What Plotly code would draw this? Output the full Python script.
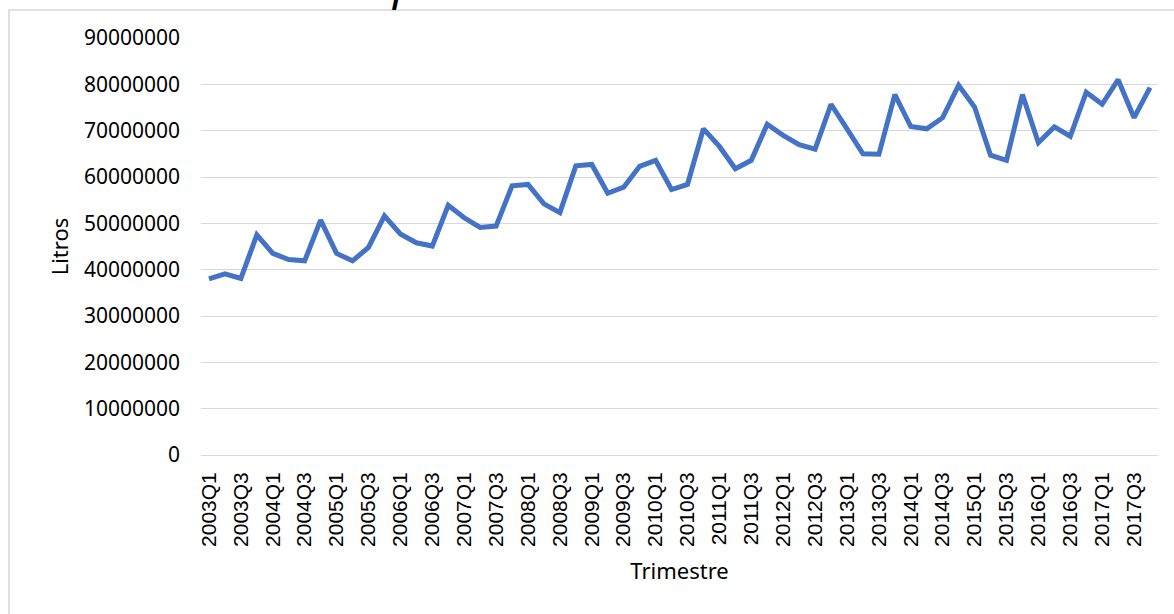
import plotly.graph_objects as go

years = list(range(2003, 2018))
quarters = ["Q1", "Q2", "Q3", "Q4"]
trimestres = [f"{y}{q}" for y in years for q in quarters]

# Litros por trimestre
litros = [
    38000000, 39100000, 38100000, 47500000,   # 2003
    43500000, 42200000, 41900000, 50700000,   # 2004
    43500000, 41900000, 44800000, 51600000,   # 2005
    47700000, 45800000, 45100000, 53900000,   # 2006
    51200000, 49100000, 49400000, 58100000,   # 2007
    58400000, 54200000, 52300000, 62400000,   # 2008
    62700000, 56500000, 57800000, 62300000,   # 2009
    63600000, 57300000, 58400000, 70400000,   # 2010
    66600000, 61800000, 63600000, 71400000,   # 2011
    69000000, 67000000, 66000000, 75700000,   # 2012
    70400000, 65000000, 64900000, 77800000,   # 2013
    70900000, 70400000, 72800000, 79800000,   # 2014
    75100000, 64700000, 63600000, 77800000,   # 2015
    67400000, 70800000, 68800000, 78300000,   # 2016
    75700000, 81000000, 72800000, 79300000,   # 2017
]
tick_labels = trimestres[::2]
y_ticks = list(range(0, 90000001, 10000000))

W, H = 1174, 614
L, R, T, B = 201, 16, 38, 159
pw, ph = W - L - R, H - T - B

def px(x):
    return (x - L) / pw

def py(y):
    return (H - B - y) / ph

fig = go.Figure()
fig.add_trace(go.Scatter(
    x=trimestres, y=litros, mode="lines",
    line=dict(color="#4472C4", width=5),
    showlegend=False,
))

fig.update_layout(
    width=W, height=H,
    margin=dict(l=L, r=R, t=T, b=B, autoexpand=False),
    paper_bgcolor="white", plot_bgcolor="white",
    font=dict(family="Noto Sans", color="#000000"),
    xaxis=dict(
        type="category", tickmode="array", tickvals=tick_labels, ticktext=tick_labels,
        tickangle=-90, range=[-0.5, len(trimestres) - 0.5],
        showgrid=False, showline=False, zeroline=False, ticks="",
        tickfont=dict(family="Liberation Sans", size=21, color="#000000"),
        ticklabelstandoff=12, automargin=False,
        title=dict(text="Trimestre", font=dict(family="Noto Sans", size=22), standoff=17),
    ),
    yaxis=dict(
        range=[0, 90000000], tickvals=y_ticks, tickformat="d",
        showgrid=True, gridcolor="#d9d9d9", gridwidth=1.4,
        zeroline=True, zerolinecolor="#d9d9d9", zerolinewidth=1.4,
        showline=False, ticks="",
        tickfont=dict(family="Noto Sans", size=21, color="#000000"),
        ticklabelstandoff=20, automargin=False,
        title=dict(text="Litros", font=dict(family="Noto Sans", size=22), standoff=9),
    ),
    shapes=[dict(
        type="rect", xref="paper", yref="paper",
        x0=px(9), x1=px(W + 20), y0=py(H + 20), y1=py(10),
        line=dict(color="#d9d9d9", width=1.6), fillcolor="rgba(0,0,0,0)", layer="below",
    )],
    annotations=[dict(
        text="<i>p</i>", xref="paper", yref="paper", x=px(405), y=py(14),
        xanchor="center", yanchor="bottom", showarrow=False,
        font=dict(family="Noto Sans", size=46, color="#000000"),
    )],
)

fig.write_html(
    "out.html",
    config={"displayModeBar": False},
    post_script="document.body.style.margin='0';document.body.style.overflow='hidden';",
)
